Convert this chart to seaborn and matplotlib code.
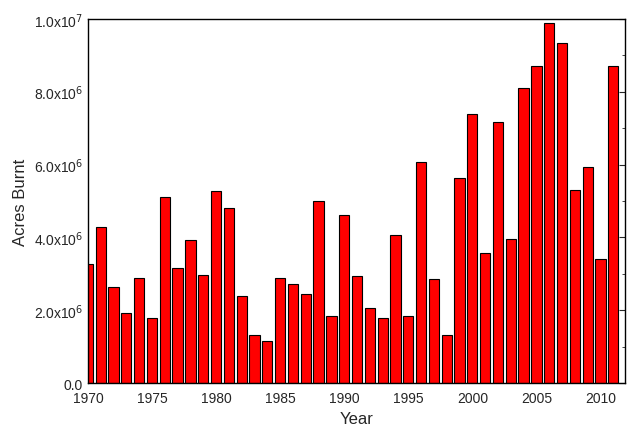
import matplotlib
matplotlib.use("Agg")
import matplotlib.pyplot as plt
import seaborn as sns
import pandas as pd
from matplotlib.ticker import FuncFormatter, MultipleLocator

years = list(range(1970, 2012))
acres = [3.28, 4.28, 2.63, 1.92, 2.88, 1.80, 5.11, 3.15, 3.92, 2.98,
         5.26, 4.81, 2.38, 1.32, 1.15, 2.89, 2.72, 2.45, 5.01, 1.83,
         4.62, 2.95, 2.07, 1.80, 4.07, 1.84, 6.07, 2.86, 1.33, 5.63,
         7.39, 3.57, 7.18, 3.96, 8.10, 8.69, 9.87, 9.33, 5.29, 5.92,
         3.42, 8.71]
acres = [a * 1e6 for a in acres]
df = pd.DataFrame({"Year": years, "Acres": acres})

sns.set_style("white")
plt.rcParams['font.family'] = ['Liberation Sans', 'DejaVu Sans']
fig, ax = plt.subplots(figsize=(6.28, 4.39), dpi=100)
sns.barplot(data=df, x="Year", y="Acres", native_scale=True, color="#ff0000",
            saturation=1, edgecolor="black", linewidth=0.8, width=0.8, ax=ax)
ax.set_xlim(1970, 2011.9)
ax.set_ylim(0, 1e7)
ax.xaxis.set_major_locator(MultipleLocator(5))
ax.xaxis.set_minor_locator(MultipleLocator(1))
ax.yaxis.set_major_locator(MultipleLocator(2e6))
ax.yaxis.set_minor_locator(MultipleLocator(1e6))

def fmt(v, pos):
    if v == 0:
        return "0.0"
    return r"%.1fx10$^{6}$" % (v / 1e6) if v < 1e7 else r"1.0x10$^{7}$"
ax.yaxis.set_major_formatter(FuncFormatter(fmt))
ax.tick_params(which="both", direction="in", top=False, right=True, labelsize=10)
ax.tick_params(which="major", length=4)
ax.tick_params(which="minor", length=2)
ax.tick_params(axis="x", pad=6)
for s in ax.spines.values():
    s.set_color("black"); s.set_linewidth(1)
ax.set_xlabel("Year", fontsize=12)
ax.set_ylabel("Acres Burnt", fontsize=12)
fig.subplots_adjust(left=0.14, right=0.995, top=0.955, bottom=0.125)
fig.savefig("out.png", dpi=100)
